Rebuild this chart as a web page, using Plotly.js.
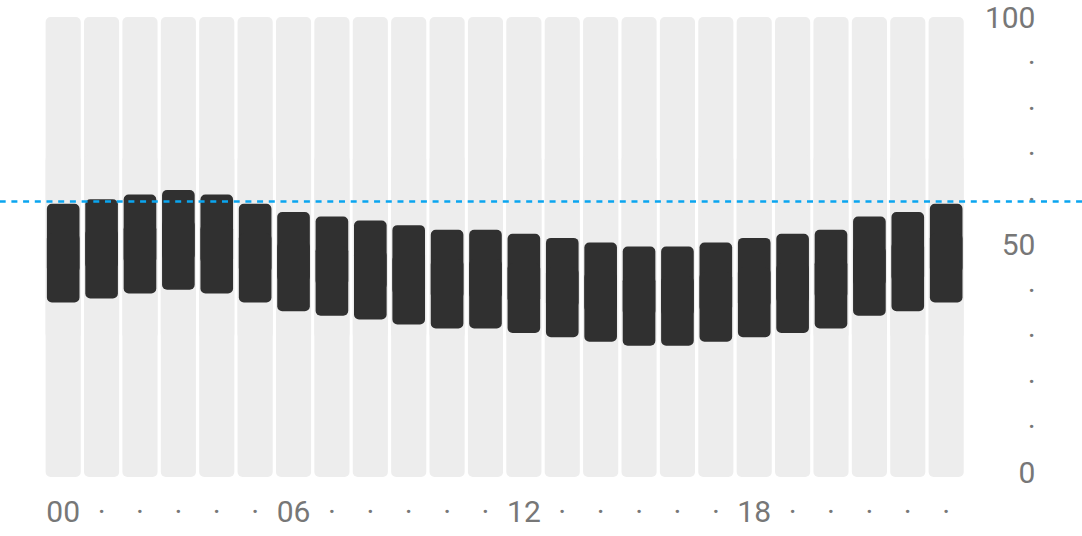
<!DOCTYPE html>
<html>
<head>
<meta charset="utf-8">
<script src="https://cdn.plot.ly/plotly-3.0.1.min.js"></script>
<style>
  html, body { margin: 0; padding: 0; background: #ffffff; }
  #chart { width: 1082px; height: 536px; }
</style>
</head>
<body>
<div id="chart"></div>
<script>
// ---- data ----
const hours = [0,1,2,3,4,5,6,7,8,9,10,11,12,13,14,15,16,17,18,19,20,21,22,23];
const hourLabels = ["00","·","·","·","·","·","06","·","·","·","·","·","12","·","·","·","·","·","18","·","·","·","·","·"];
const highs = [59.0,60.0,61.0,62.0,61.0,59.0,57.2,56.2,55.3,54.3,53.3,53.3,52.4,51.5,50.5,49.6,49.6,50.5,51.5,52.4,53.3,56.2,57.2,59.0];
const lows  = [37.3,38.2,39.3,40.1,39.3,37.3,35.4,34.4,33.6,32.5,31.6,31.6,30.6,29.7,28.7,27.8,27.8,28.7,29.7,30.6,31.6,34.4,35.4,37.3];
const trackMax = 100;
const threshold = 59.5;
const yTickVals = [0,10,20,30,40,50,60,70,80,90,100];
const yTickText = ["0","·","·","·","·","50","·","·","·","·","100"];

// ---- styling constants ----
const yMin = -1;
const trackColor = "#ededed";
const barColor = "#303030";
const labelColor = "#777777";
const W = 1082, H = 536;
const mL = 44.3, mR = 0, mT = 16.7, mB = 59.3;
const paperW = W - mL - mR;

// split each rounded bar into two overlapping halves so both ends get rounded corners
const trackUpBase = hours.map(() => yMin + (trackMax - yMin) * 0.3);
const trackUpLen = trackUpBase.map(b => trackMax - b);
const trackDnBase = hours.map(() => yMin + (trackMax - yMin) * 0.7);
const trackDnLen = trackDnBase.map(b => yMin - b);

const barUpBase = hours.map((_, i) => lows[i] + (highs[i] - lows[i]) * 0.3);
const barUpLen = hours.map((_, i) => highs[i] - barUpBase[i]);
const barDnBase = hours.map((_, i) => lows[i] + (highs[i] - lows[i]) * 0.7);
const barDnLen = hours.map((_, i) => lows[i] - barDnBase[i]);

const common = { type: "bar", x: hours, hoverinfo: "skip", showlegend: false };
const traces = [
  Object.assign({}, common, { y: trackUpLen, base: trackUpBase, width: 0.915, marker: { color: trackColor, cornerradius: 5, line: { width: 0 } } }),
  Object.assign({}, common, { y: trackDnLen, base: trackDnBase, width: 0.915, marker: { color: trackColor, cornerradius: 5, line: { width: 0 } } }),
  Object.assign({}, common, { y: barUpLen, base: barUpBase, width: 0.85, marker: { color: barColor, cornerradius: 5, line: { width: 0 } } }),
  Object.assign({}, common, { y: barDnLen, base: barDnBase, width: 0.85, marker: { color: barColor, cornerradius: 5, line: { width: 0 } } })
];

const layout = {
  width: W, height: H,
  margin: { l: mL, r: mR, t: mT, b: mB, pad: 0 },
  paper_bgcolor: "#ffffff",
  plot_bgcolor: "rgba(0,0,0,0)",
  barmode: "overlay",
  font: { family: "Roboto, 'Noto Sans', sans-serif", color: labelColor, size: 30 },
  xaxis: {
    domain: [0, 921.1 / paperW],
    range: [-0.5, 23.5],
    tickmode: "array",
    tickvals: hours,
    ticktext: hourLabels,
    showgrid: false, zeroline: false, showline: false, ticks: "",
    tickfont: { size: 30, color: labelColor },
    ticklabelstandoff: 14,
    ticklabeloverflow: "allow",
    fixedrange: true
  },
  yaxis: {
    range: [yMin, trackMax],
    side: "left",
    anchor: "free",
    position: (1035.5 - mL) / paperW,
    tickmode: "array",
    tickvals: yTickVals,
    ticktext: yTickText,
    showgrid: false, zeroline: false, showline: false, ticks: "",
    tickfont: { size: 30, color: labelColor },
    ticklabeloverflow: "allow",
    fixedrange: true
  },
  shapes: [{
    type: "line", xref: "paper", yref: "y",
    x0: -mL / paperW, x1: 1.05, y0: threshold, y1: threshold,
    line: { color: "#0aa5f0", width: 2.5, dash: "6px,5.7px" },
    layer: "above"
  }]
};

Plotly.newPlot("chart", traces, layout, { displayModeBar: false, staticPlot: true });
</script>
</body>
</html>
